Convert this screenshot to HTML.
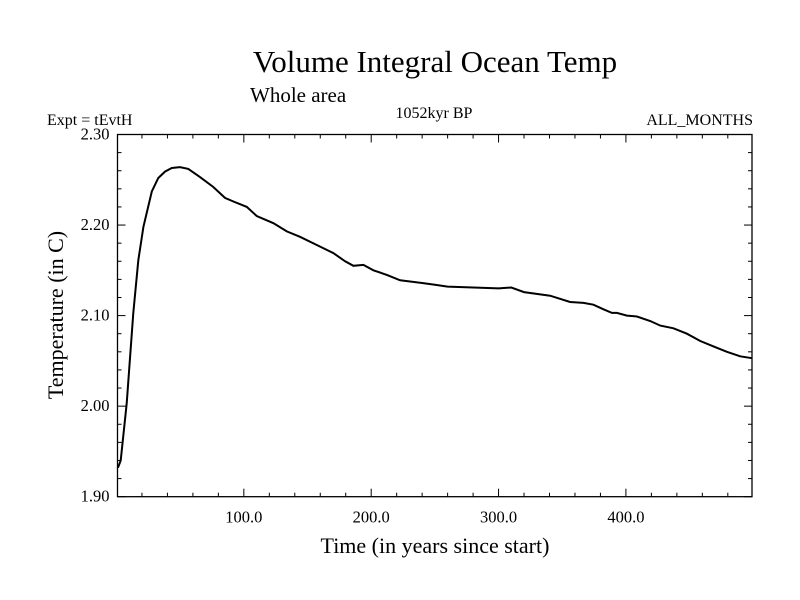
<!DOCTYPE html>
<html><head><meta charset="utf-8"><style>
body{margin:0;background:#fff;}
svg{display:block;font-family:"Liberation Serif",serif;}
</style></head><body>
<svg id="chart" width="800" height="600" viewBox="0 0 800 600">
<text x="435" y="72" font-size="31" text-anchor="middle">Volume Integral Ocean Temp</text>
<text x="250" y="102" font-size="21">Whole area</text>
<text x="434" y="118" font-size="16" text-anchor="middle">1052kyr BP</text>
<text x="47" y="125" font-size="16">Expt = tEvtH</text>
<text x="753" y="125" font-size="16" text-anchor="end">ALL_MONTHS</text>
<text x="435" y="553" font-size="22" text-anchor="middle">Time (in years since start)</text>
<text transform="translate(63,315) rotate(-90)" font-size="22" text-anchor="middle">Temperature (in C)</text>
<g id="axes"></g>
<path id="line" fill="none" stroke="#000" stroke-width="2"></path>
</svg>
<script>
const years=[1,1.4,3.3,8,13.2,17.1,21.1,27.7,32.8,38.1,43.4,49.9,56.4,65.6,76,85.2,91.8,102.3,110.1,123.2,133.7,144.1,157.3,170.3,179.5,186,193.9,201.7,212.3,222.7,240,250,260,300,310,320,340.5,356.2,366.7,374.5,382.4,389,392.9,400.8,408.6,419.1,427,437.4,447.9,458.4,468.8,479.3,489.7,499];
const temps=[1.932,1.933,1.94,2.003,2.103,2.161,2.198,2.237,2.252,2.259,2.263,2.264,2.262,2.253,2.242,2.230,2.226,2.220,2.210,2.202,2.193,2.187,2.178,2.169,2.160,2.155,2.156,2.150,2.145,2.139,2.136,2.134,2.132,2.130,2.131,2.126,2.122,2.115,2.114,2.112,2.107,2.103,2.103,2.100,2.099,2.094,2.089,2.086,2.080,2.072,2.066,2.060,2.055,2.053];
const xTicks=[100,200,300,400];
const xTickLabels=["100.0","200.0","300.0","400.0"];
const yTicks=[1.9,2.0,2.1,2.2,2.3];
const yTickLabels=["1.90","2.00","2.10","2.20","2.30"];
const X0=117.5,X1=752,Y0=134.5,Y1=496.7,xmin=0.8,xmax=499,ymin=1.9,ymax=2.3;
const sx=v=>X0+(v-xmin)/(xmax-xmin)*(X1-X0);
const sy=v=>Y1-(v-ymin)/(ymax-ymin)*(Y1-Y0);
const NS="http://www.w3.org/2000/svg";
const g=document.getElementById('axes');
function mk(t,a){const e=document.createElementNS(NS,t);for(const k in a)e.setAttribute(k,a[k]);g.appendChild(e);return e;}
const fr=mk('rect',{x:X0,y:Y0,width:X1-X0,height:Y1-Y0,fill:'none',stroke:'#000','stroke-width':1.3});


for(let v=20;v<xmax;v+=20){const x=sx(v);const maj=v%100===0;const L=maj?8:4;
mk('line',{x1:x,x2:x,y1:Y1,y2:Y1-L,stroke:'#000'});mk('line',{x1:x,x2:x,y1:Y0,y2:Y0+L,stroke:'#000'});}
for(let i=0;i<=20;i++){const v=ymin+i*0.02;const y=sy(v);const L=i%5===0?8:4;
mk('line',{x1:X0,x2:X0+L,y1:y,y2:y,stroke:'#000'});mk('line',{x1:X1,x2:X1-L,y1:y,y2:y,stroke:'#000'});}
xTicks.forEach((v,i)=>{const t=mk('text',{x:sx(v),y:Y1+26,'font-size':16.5,'text-anchor':'middle'});t.textContent=xTickLabels[i];

});
yTicks.forEach((v,i)=>{const t=mk('text',{x:X0-8,y:sy(v)+5,'font-size':16.5,'text-anchor':'end'});t.textContent=yTickLabels[i];

});
document.getElementById('line').setAttribute('d',years.map((v,i)=>(i?'L':'M')+sx(v).toFixed(1)+','+sy(temps[i]).toFixed(1)).join(''));
</script>
</body></html>
